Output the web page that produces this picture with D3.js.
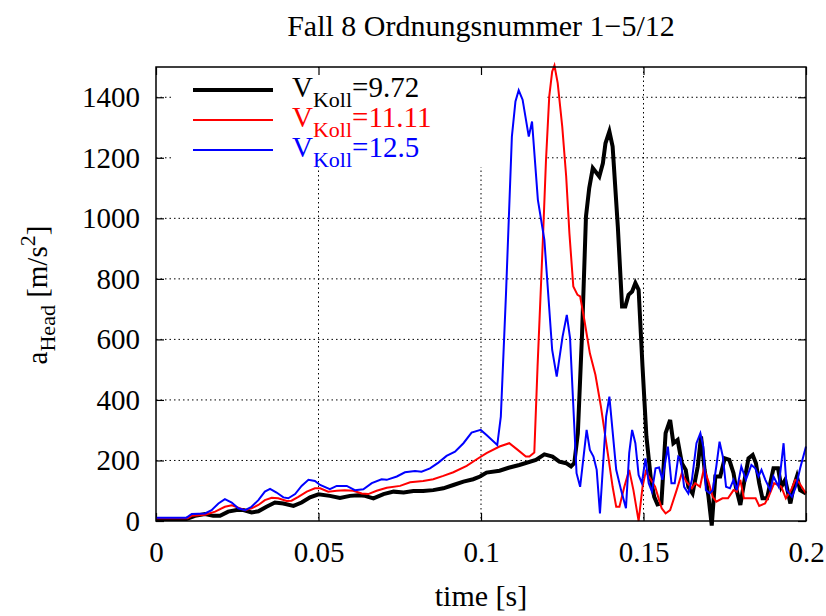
<!DOCTYPE html>
<html>
<head>
<meta charset="utf-8">
<script src="https://cdn.jsdelivr.net/npm/d3@7"></script>
<style>
  body { margin: 0; background: #fff; }
  text { font-family: "Liberation Serif", "DejaVu Serif", serif; }
</style>
</head>
<body>
<svg width="826" height="616"></svg>
<script>
// chart values
const chartTitle = 'Fall 8 Ordnungsnummer 1\u22125/12';
const xTicks = [0, 0.05, 0.1, 0.15, 0.2];
const xTickLabels = ['0', '0.05', '0.1', '0.15', '0.2'];
const yTicks = [0, 200, 400, 600, 800, 1000, 1200, 1400];
const yTickLabels = ['0', '200', '400', '600', '800', '1000', '1200', '1400'];
const vKoll = ['9.72', '11.11', '12.5'];

// [time s, a_Head m/s^2]
const koll972 = [[0,7],[0.0094,7],[0.012,17],[0.0151,23],[0.0176,17],[0.0197,17],[0.0222,31],[0.0248,36],[0.0269,36],[0.0294,28],[0.0315,32],[0.034,47],[0.0366,61],[0.0392,58],[0.0423,50],[0.0448,61],[0.0474,78],[0.050,88],[0.0535,83],[0.0566,76],[0.0597,83],[0.0623,85],[0.0643,83],[0.0669,75],[0.070,89],[0.0731,97],[0.0762,94],[0.0792,99],[0.0822,99],[0.0853,102],[0.0884,108],[0.0915,119],[0.0946,130],[0.0976,138],[0.0997,147],[0.1017,160],[0.1057,166],[0.1085,176],[0.1118,185],[0.1169,202],[0.1195,220],[0.122,213],[0.1241,196],[0.1262,191],[0.1277,180],[0.1287,191],[0.1298,290],[0.1311,620],[0.1323,1006],[0.1333,1100],[0.1344,1166],[0.1364,1138],[0.1375,1182],[0.1383,1248],[0.1395,1287],[0.1405,1237],[0.1421,973],[0.1434,709],[0.1444,709],[0.1454,747],[0.1465,758],[0.1475,786],[0.1485,764],[0.1497,510],[0.1509,279],[0.1523,136],[0.1533,80],[0.1543,55],[0.1555,58],[0.1568,290],[0.1582,334],[0.1592,257],[0.1605,268],[0.1618,191],[0.163,169],[0.1638,113],[0.1651,91],[0.1667,180],[0.1677,279],[0.1688,169],[0.170,80],[0.171,-15],[0.1721,147],[0.1736,147],[0.175,207],[0.1764,202],[0.1777,158],[0.1784,113],[0.1798,53],[0.1811,136],[0.1823,207],[0.1836,218],[0.1846,191],[0.1856,125],[0.1866,75],[0.188,75],[0.189,125],[0.190,174],[0.1914,174],[0.1924,113],[0.1936,136],[0.1952,58],[0.1962,113],[0.1972,147],[0.1982,102],[0.2,91]];

const koll1111 = [[0,9],[0.0097,9],[0.011,17],[0.0151,21],[0.0182,31],[0.0212,47],[0.0233,52],[0.0253,44],[0.0274,36],[0.0294,42],[0.0315,53],[0.0335,69],[0.0356,77],[0.0376,75],[0.0402,66],[0.0417,67],[0.0438,80],[0.0464,97],[0.0489,108],[0.0505,108],[0.053,97],[0.0556,100],[0.0581,102],[0.0607,100],[0.0633,91],[0.0653,89],[0.0679,100],[0.071,110],[0.0751,116],[0.0782,128],[0.0822,132],[0.0853,138],[0.0884,149],[0.0915,161],[0.0956,182],[0.0987,204],[0.1017,224],[0.1057,246],[0.1087,257],[0.1113,235],[0.1138,213],[0.1149,213],[0.1164,226],[0.1174,510],[0.119,918],[0.120,1193],[0.121,1403],[0.1219,1485],[0.1226,1505],[0.1236,1447],[0.125,1303],[0.1262,1140],[0.1272,951],[0.1284,775],[0.1297,747],[0.1305,742],[0.1318,664],[0.1335,554],[0.1352,483],[0.1369,378],[0.139,224],[0.1405,113],[0.1416,47],[0.1426,47],[0.1441,113],[0.1456,169],[0.1469,102],[0.1485,0],[0.1497,113],[0.1507,163],[0.1523,136],[0.1536,113],[0.1548,69],[0.1556,42],[0.1568,25],[0.1582,36],[0.1602,102],[0.1618,158],[0.1632,130],[0.1649,108],[0.1659,125],[0.1674,113],[0.1686,174],[0.170,130],[0.1713,80],[0.1724,64],[0.1743,75],[0.176,75],[0.1777,102],[0.1787,97],[0.1798,136],[0.1809,75],[0.183,75],[0.1845,75],[0.1856,50],[0.1874,58],[0.1887,86],[0.1902,125],[0.1924,113],[0.1938,75],[0.1954,102],[0.1967,136],[0.1977,130],[0.2,91]];

const koll125 = [[0,11],[0.0094,11],[0.011,23],[0.0151,25],[0.0171,36],[0.0192,58],[0.0212,72],[0.0233,61],[0.0253,42],[0.0274,36],[0.0294,47],[0.0315,69],[0.0335,97],[0.0351,106],[0.0371,94],[0.0392,78],[0.0407,75],[0.0428,89],[0.0448,116],[0.0469,136],[0.0489,132],[0.0505,119],[0.0535,105],[0.0556,116],[0.0587,116],[0.0612,102],[0.0638,105],[0.0664,125],[0.0694,138],[0.071,136],[0.0741,147],[0.0766,161],[0.0797,165],[0.0817,163],[0.0843,174],[0.0869,193],[0.0894,215],[0.092,229],[0.0946,257],[0.0971,292],[0.0999,301],[0.1017,284],[0.105,251],[0.1061,345],[0.1077,753],[0.1095,1270],[0.1106,1386],[0.1116,1423],[0.1128,1392],[0.1147,1270],[0.1157,1320],[0.1175,1061],[0.1195,929],[0.1219,565],[0.1233,477],[0.1251,609],[0.1264,681],[0.1274,604],[0.1294,158],[0.1305,113],[0.1325,301],[0.1335,235],[0.1346,213],[0.1356,169],[0.1366,25],[0.1385,345],[0.1395,411],[0.1416,169],[0.1431,102],[0.1446,42],[0.1456,224],[0.1465,301],[0.1475,257],[0.1485,152],[0.1495,125],[0.1506,207],[0.1516,125],[0.1526,97],[0.1537,174],[0.1548,177],[0.1558,136],[0.1575,246],[0.1586,125],[0.1596,125],[0.1607,213],[0.1614,207],[0.1625,113],[0.1638,91],[0.1649,136],[0.1663,257],[0.1675,290],[0.1684,246],[0.1692,102],[0.1704,91],[0.1713,102],[0.1724,180],[0.1734,262],[0.1744,213],[0.1754,113],[0.1766,108],[0.1777,136],[0.1787,102],[0.1801,180],[0.1815,136],[0.1832,185],[0.1844,174],[0.1854,147],[0.1863,169],[0.1875,136],[0.189,102],[0.190,147],[0.1916,113],[0.1931,257],[0.1941,102],[0.1957,80],[0.1969,113],[0.1982,174],[0.2,246]];

const seriesList = [
  {name: vKoll[0], values: koll972, color: '#000000', width: 4},
  {name: vKoll[1], values: koll1111, color: '#ff0000', width: 2},
  {name: vKoll[2], values: koll125, color: '#0000ff', width: 2}
];

var svg = d3.select('svg');
var width = +svg.attr('width');
var height = +svg.attr('height');

const render = () => {
  const margin = {top: 67, right: 20, bottom: 95, left: 156};
  const innerWidth = width - margin.left - margin.right;
  const innerHeight = height - margin.top - margin.bottom;

  const xScale = d3.scaleLinear().domain([0, 0.2]).range([0, innerWidth]);
  const yScale = d3.scaleLinear().domain([0, 1500]).range([innerHeight, 0]);

  svg.append('text')
    .attr('x', margin.left + innerWidth / 2)
    .attr('y', 36)
    .attr('text-anchor', 'middle')
    .style('font-size', '30px')
    .text(chartTitle);

  const g = svg.append('g')
    .attr('transform', `translate(${margin.left},${margin.top})`);

  // dotted grid
  g.selectAll('.hgrid').data(yTicks.filter(d => d > 0))
    .enter().append('line')
      .attr('x1', 0).attr('x2', innerWidth)
      .attr('y1', d => yScale(d)).attr('y2', d => yScale(d))
      .style('stroke', '#000').style('stroke-width', 1)
      .style('stroke-dasharray', '1.5,3');
  g.selectAll('.vgrid').data(xTicks.filter(d => d > 0 && d < 0.2))
    .enter().append('line')
      .attr('x1', d => xScale(d)).attr('x2', d => xScale(d))
      .attr('y1', 0).attr('y2', innerHeight)
      .style('stroke', '#000').style('stroke-width', 1)
      .style('stroke-dasharray', '1.5,3');

  // opaque key area hides the grid
  g.append('rect')
    .attr('x', 17).attr('y', 1)
    .attr('width', 372).attr('height', 99)
    .style('fill', '#fff');

  // axes with inward ticks, mirrored on top and right
  const tickLen = 8;
  g.append('g').attr('transform', `translate(0,${innerHeight})`)
    .call(d3.axisBottom(xScale).tickValues(xTicks).tickFormat((d, i) => xTickLabels[i])
      .tickSizeInner(-tickLen).tickSizeOuter(0).tickPadding(tickLen + 12));
  g.append('g')
    .call(d3.axisLeft(yScale).tickValues(yTicks).tickFormat((d, i) => yTickLabels[i])
      .tickSizeInner(-tickLen).tickSizeOuter(0).tickPadding(tickLen + 8));
  g.append('g')
    .call(d3.axisTop(xScale).tickValues(xTicks).tickFormat('').tickSizeInner(-tickLen).tickSizeOuter(0));
  g.append('g').attr('transform', `translate(${innerWidth},0)`)
    .call(d3.axisRight(yScale).tickValues(yTicks).tickFormat('').tickSizeInner(-tickLen).tickSizeOuter(0));
  g.selectAll('.domain').remove();
  g.selectAll('.tick line').style('stroke', '#000').style('stroke-width', 1.2);
  g.selectAll('.tick text')
    .style('font-family', '"Liberation Serif", serif')
    .style('font-size', '29px')
    .style('fill', '#000');

  // curves
  const line = d3.line()
    .x(d => xScale(d[0]))
    .y(d => yScale(d[1]));

  g.selectAll('.curve').data(seriesList)
    .enter().append('path')
      .attr('d', d => line(d.values))
      .style('fill', 'none')
      .style('stroke', d => d.color)
      .style('stroke-width', d => d.width)
      .style('stroke-linejoin', 'miter');

  // frame
  g.append('rect')
    .attr('width', innerWidth).attr('height', innerHeight)
    .style('fill', 'none').style('stroke', '#000').style('stroke-width', 1.5);

  // key
  const key = g.selectAll('.key').data(seriesList)
    .enter().append('g')
      .attr('transform', (d, i) => `translate(0,${23 + i * 30})`);
  key.append('line')
    .attr('x1', 37).attr('x2', 117)
    .style('stroke', d => d.color)
    .style('stroke-width', d => d.width);
  const kt = key.append('text')
    .attr('x', 136).attr('y', 7)
    .style('font-size', '29px')
    .style('fill', d => d.color);
  kt.append('tspan').text('V');
  kt.append('tspan').attr('dy', 10).style('font-size', '22px').text('Koll');
  kt.append('tspan').attr('dy', -10).text(d => '=' + d.name);

  // axis titles
  svg.append('text')
    .attr('x', margin.left + innerWidth / 2)
    .attr('y', 606)
    .attr('text-anchor', 'middle')
    .style('font-size', '30px')
    .text('time [s]');

  const yl = svg.append('text')
    .attr('transform', 'translate(47,295) rotate(-90)')
    .attr('text-anchor', 'middle')
    .style('font-size', '29px');
  yl.append('tspan').text('a');
  yl.append('tspan').attr('dy', 8).style('font-size', '22px').text('Head');
  yl.append('tspan').attr('dy', -8).text(' [m/s');
  yl.append('tspan').attr('dy', -12).style('font-size', '22px').text('2');
  yl.append('tspan').attr('dy', 12).text(']');
};

render();
</script>
</body>
</html>
